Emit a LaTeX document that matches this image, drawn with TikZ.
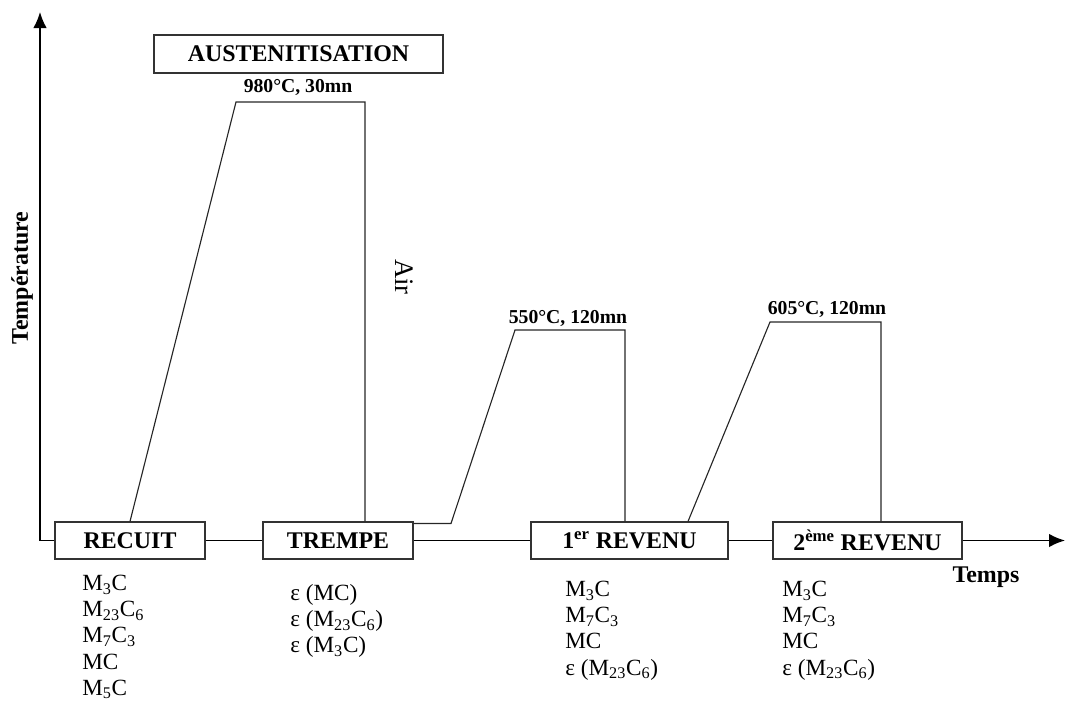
\documentclass[tikz,border=0pt]{standalone}
\usepackage{fontspec}
\setmainfont{Liberation Serif}
\usetikzlibrary{arrows.meta,positioning}

\begin{document}
\begin{tikzpicture}[x=0.025cm, y=-0.025cm,
  stagebox/.style={draw=black!80, line width=0.8pt, minimum height=0.925cm, inner sep=2pt, font=\fontsize{17}{20}\selectfont\bfseries},
  phaselist/.style={anchor=north west, align=left, inner sep=0pt, font=\fontsize{16.5}{18.6}\selectfont},
  templabel/.style={font=\fontsize{14}{16}\selectfont\bfseries},
  profile/.style={line width=0.8pt, black!85},
  axis/.style={line width=1.3pt, black}]
  \useasboundingbox (0,0) rectangle (1067,705);

  %--- Axes ---
  \coordinate (origin) at (40,540.5);
  \coordinate (ytip) at (40,12);
  \coordinate (xtip) at (1065,540.5);
  \node[font=\fontsize{17}{19}\selectfont\bfseries, rotate=90] (ylabel) at (22,278) {Température};
  \node[font=\fontsize{17}{20}\selectfont\bfseries] (xlabel) at (986,577) {Temps};

  % Stage boxes on the time axis
  \node[stagebox, minimum width=3.75cm] (recuit) at (130,540.5) {RECUIT};
  \node[stagebox, minimum width=3.75cm] (trempe) at (338,540.5) {TREMPE};
  \node[stagebox, minimum width=4.925cm] (rev1) at (629.5,540.5) {1\textsuperscript{er} REVENU};
  \node[stagebox, minimum width=4.725cm] (rev2) at (867.5,540.5) {2\textsuperscript{ème} REVENU};
  \node[stagebox, minimum width=7.225cm, minimum height=0.95cm] (auste) at (298.5,54) {AUSTENITISATION};

  \draw[axis, -{Latex[length=4mm,width=3.4mm]}] (origin) -- (ytip);
  \draw[axis] (origin) -- (recuit.west);
  \draw[axis] (recuit.east) -- (trempe.west);
  \draw[axis] (trempe.east) -- (rev1.west);
  \draw[axis] (rev1.east) -- (rev2.west);
  \draw[axis, -{Latex[length=4mm,width=3.4mm]}] (rev2.east) -- (xtip);

  %--- Thermal cycle ---
  \coordinate (a1) at (236,102);
  \coordinate (a2) at (365,102);
  \coordinate (b0) at (451,523.5);
  \coordinate (b1) at (515,330);
  \coordinate (b2) at (625,330);
  \coordinate (c0) at (688,522);
  \coordinate (c1) at (770,322);
  \coordinate (c2) at (881,322);

  \draw[profile] (recuit.north) -- (a1) -- (a2) -- (a2 |- trempe.north);
  \draw[profile] ([yshift=-1.5pt]trempe.north east) -- (b0) -- (b1) -- (b2) -- (b2 |- rev1.north);
  \draw[profile] (c0 |- rev1.north) -- (c1) -- (c2) -- (c2 |- rev2.north);

  % Plateau labels
  \node[templabel] (t980) at (298,87) {980°C, 30mn};
  \node[templabel] (t550) at (568,318) {550°C, 120mn};
  \node[templabel] (t605) at (827,309) {605°C, 120mn};
  \node[font=\fontsize{19}{21}\selectfont, rotate=-90] (air) at (404,277) {Air};

  %--- Carbides after each stage ---
  \node[phaselist] (lrecuit) at (82,575) {M\textsubscript{3}C\\M\textsubscript{23}C\textsubscript{6}\\M\textsubscript{7}C\textsubscript{3}\\MC\\M\textsubscript{5}C};
  \node[phaselist] (ltrempe) at (290,584) {ε (MC)\\ε (M\textsubscript{23}C\textsubscript{6})\\ε (M\textsubscript{3}C)};
  \node[phaselist] (lrev1) at (565,581) {M\textsubscript{3}C\\M\textsubscript{7}C\textsubscript{3}\\MC\\ε (M\textsubscript{23}C\textsubscript{6})};
  \node[phaselist] (lrev2) at (782,581) {M\textsubscript{3}C\\M\textsubscript{7}C\textsubscript{3}\\MC\\ε (M\textsubscript{23}C\textsubscript{6})};
\end{tikzpicture}
\end{document}
